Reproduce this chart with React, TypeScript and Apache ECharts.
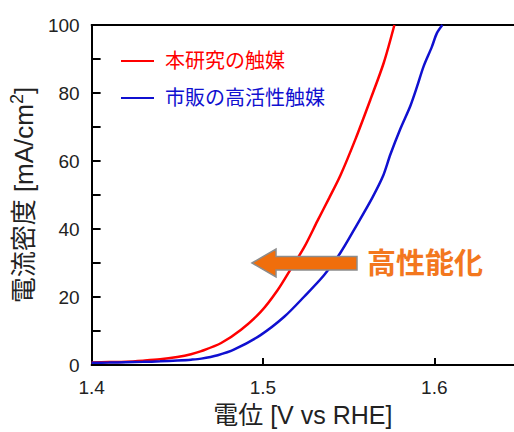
import React, { useEffect, useRef } from "react";
import * as echarts from "echarts";

const redName = "本研究の触媒";
const blueName = "市販の高活性触媒";
const xName = "電位 [V vs RHE]";
const yName = "電流密度 [mA/cm{sup|2}]";
const noteText = "高性能化";

const redV = [1.4, 1.41, 1.42, 1.43, 1.44, 1.45, 1.458, 1.464, 1.4756, 1.4872, 1.4988, 1.5085, 1.5163, 1.524, 1.5318, 1.5386, 1.5453, 1.5541, 1.5628, 1.5705, 1.5767];
const redI = [0.8, 0.9, 1.0, 1.3, 1.7, 2.4, 3.2, 4.1, 6.5, 10.4, 15.7, 22.0, 28.3, 34.6, 42.4, 49.1, 55.9, 66.6, 78.2, 88.9, 100];

const blueV = [1.4, 1.41, 1.42, 1.43, 1.44, 1.45, 1.458, 1.464, 1.4736, 1.4833, 1.4988, 1.5124, 1.524, 1.5356, 1.5453, 1.555, 1.5637, 1.57, 1.5744, 1.5802, 1.586, 1.59, 1.5938, 1.5985, 1.6015, 1.6047];
const blueI = [0.7, 0.75, 0.85, 0.95, 1.1, 1.35, 1.6, 1.9, 2.9, 4.6, 8.9, 14.2, 20.1, 26.4, 33.1, 41.4, 49.1, 55.5, 62.0, 69.5, 76.2, 82.0, 87.9, 93.5, 97.6, 100];

const xMin = 1.4;
const xMax = 1.6465;
const xStep = 0.1;
const yMin = 0;
const yMax = 100;
const yStep = 10;

const latin = "'Liberation Sans', Arial, 'Noto Sans CJK JP', sans-serif";
const cjk = "'Liberation Sans', 'Noto Sans CJK JP', sans-serif";

export default function App() {
  const ref = useRef<HTMLDivElement>(null);
  useEffect(() => {
    if (!ref.current) return;
    const chart = echarts.init(ref.current, null, { renderer: "svg" });
    const red = redV.map((v, i) => [v, redI[i]]);
    const blue = blueV.map((v, i) => [v, blueI[i]]);
    chart.setOption({
      animation: false,
      backgroundColor: "#ffffff",
      grid: { left: 90, top: 25, right: 0, bottom: 63 },
      legend: {
        orient: "vertical",
        left: 116,
        top: 46,
        icon: "rect",
        itemWidth: 33,
        itemHeight: 2,
        itemGap: 17,
        textStyle: { fontSize: 20, fontFamily: cjk, padding: [0, 0, 0, 6] },
        data: [
          { name: redName, textStyle: { color: "#ff0000" } },
          { name: blueName, textStyle: { color: "#1010d0" } },
        ],
      },
      xAxis: [
        {
          type: "value",
          min: xMin,
          max: xMax,
          interval: xStep,
          name: xName,
          nameLocation: "middle",
          nameGap: 30,
          nameTextStyle: { fontSize: 25, color: "#222", fontFamily: cjk },
          axisLine: { lineStyle: { color: "#000", width: 2 } },
          axisTick: { inside: true, length: 7, lineStyle: { color: "#000", width: 2 } },
          axisLabel: {
            fontSize: 19,
            color: "#222",
            fontFamily: latin,
            margin: 13,
            showMaxLabel: false,
            formatter: (v: number) => (Math.abs(v - Math.round(v * 10) / 10) < 1e-6 ? v.toFixed(1) : ""),
          },
          splitLine: { show: false },
        },
        {
          type: "value",
          position: "top",
          min: xMin,
          max: xMax,
          axisLine: { show: true, lineStyle: { color: "#000", width: 2 } },
          axisTick: { show: false },
          axisLabel: { show: false },
          splitLine: { show: false },
        },
      ],
      yAxis: {
        type: "value",
        min: yMin,
        max: yMax,
        interval: yStep,
        name: yName,
        nameLocation: "middle",
        nameGap: 41,
        nameTextStyle: {
          fontSize: 26,
          color: "#222",
          fontFamily: cjk,
          rich: { sup: { fontSize: 18, color: "#222", fontFamily: latin, padding: [0, 0, 14, 0] } },
        },
        axisLine: { show: true, lineStyle: { color: "#000", width: 2 } },
        axisTick: { inside: true, length: 9, lineStyle: { color: "#000", width: 2 } },
        axisLabel: {
          fontSize: 19,
          color: "#222",
          fontFamily: latin,
          margin: 12,
          formatter: (v: number) => (v % 20 === 0 ? String(v) : ""),
        },
        splitLine: { show: false },
      },
      series: [
        {
          name: redName,
          type: "line",
          data: red,
          showSymbol: false,
          smooth: 0.3,
          lineStyle: { color: "#ff0000", width: 2.5 },
          itemStyle: { color: "#ff0000" },
        },
        {
          name: blueName,
          type: "line",
          data: blue,
          showSymbol: false,
          smooth: 0.3,
          lineStyle: { color: "#1010d0", width: 2.5 },
          itemStyle: { color: "#1010d0" },
        },
      ],
      graphic: [
        {
          type: "polygon",
          z: 100,
          shape: {
            points: [
              [252, 263],
              [276, 249],
              [276, 256.5],
              [357, 256.5],
              [357, 270],
              [276, 270],
              [276, 277],
            ],
          },
          style: { fill: "#f06e0c", stroke: "#8c8c8c", lineWidth: 1.5 },
        },
        {
          type: "text",
          z: 100,
          left: 367,
          top: 246,
          style: {
            text: noteText,
            fill: "#f3771e",
            font: "bold 29px 'Noto Sans CJK JP', sans-serif",
          },
        },
      ],
    });
    return () => chart.dispose();
  }, []);
  return (
    <div
      ref={ref}
      style={{ position: "fixed", left: 0, top: 0, width: 514, height: 432, background: "#fff" }}
    />
  );
}
